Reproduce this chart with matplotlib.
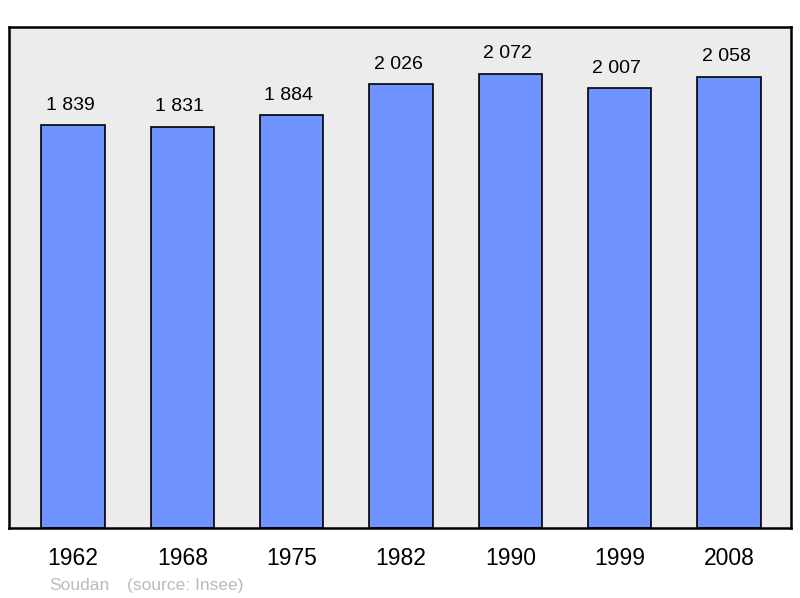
import matplotlib.pyplot as plt

years = ["1962", "1968", "1975", "1982", "1990", "1999", "2008"]
population = [1839, 1831, 1884, 2026, 2072, 2007, 2058]
labels = ["1 839", "1 831", "1 884", "2 026", "2 072", "2 007", "2 058"]

plt.rcParams['font.family'] = ['Liberation Sans', 'DejaVu Sans']

fig = plt.figure(figsize=(8, 5.98), dpi=100)
ax = fig.add_axes([9 / 800, 70 / 598, 782 / 800, 501 / 598])
ax.set_facecolor("#ececec")

x = range(len(years))
bars = ax.bar(x, population, width=0.58, color="#7094ff",
              edgecolor="black", linewidth=1.2, zorder=2)

for xi, v, lab in zip(x, population, labels):
    ax.annotate(lab, (xi, v), xytext=(-2, 11), textcoords="offset points",
                ha="center", va="baseline", fontsize=14)

ax.set_xlim(-0.585, 6.567)
ax.set_ylim(0, 2285)
ax.set_xticks(list(x))
ax.set_xticklabels(years, fontsize=16.5)
ax.tick_params(axis="x", length=0, pad=14)
ax.set_yticks([])
for s in ax.spines.values():
    s.set_linewidth(1.8)

fig.text(49 / 800, 1 - 590 / 598, "Soudan", color="#bbbbbb", fontsize=12.5,
         va="baseline")
fig.text(127 / 800, 1 - 590 / 598, "(source: Insee)", color="#bbbbbb",
         fontsize=12.5, va="baseline")

plt.savefig("out.png", dpi=100)
